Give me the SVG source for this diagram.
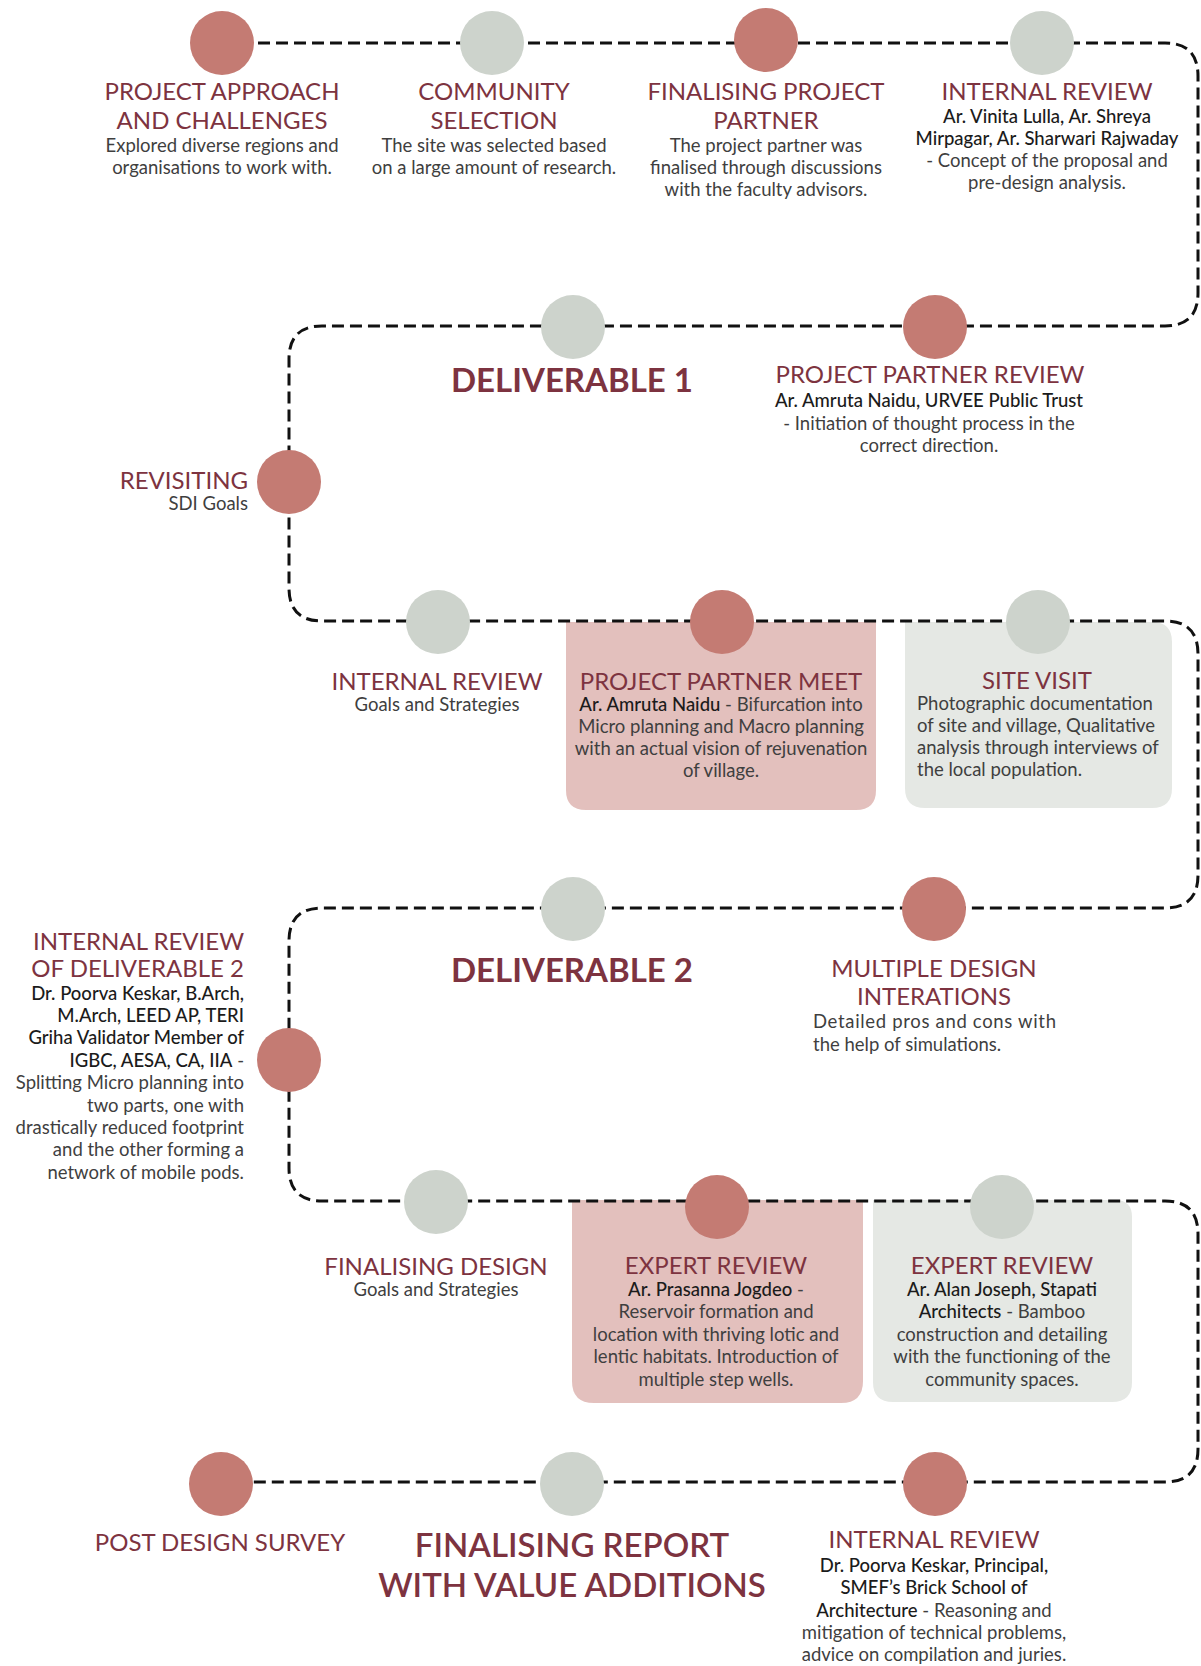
<svg xmlns="http://www.w3.org/2000/svg" width="1201" height="1666" viewBox="0 0 1201 1666">
<style>
text{font-family:Lato,"Liberation Sans",sans-serif}
.t{font-size:24px;font-weight:400;fill:#7d3340;text-anchor:middle}
.tr{font-size:24px;font-weight:400;fill:#7d3340;text-anchor:end}
.b{font-size:18.5px;fill:#3f3f3f;text-anchor:middle}
.br{font-size:18.5px;fill:#3f3f3f;text-anchor:end}
.bl{font-size:18.5px;fill:#3f3f3f;text-anchor:start}
.m{font-weight:500;fill:#1b1b1b}
.big{font-size:33px;font-weight:700;fill:#7d3340;text-anchor:middle}
.big2{font-size:33px;font-weight:600;fill:#7d3340;text-anchor:middle}
.red{fill:#c47b73}
.grey{fill:#cdd3cc}
.pink{fill:#e3c0bd}
.gbox{fill:#e5e8e4}
.line{fill:none;stroke:#111;stroke-width:3;stroke-dasharray:12 6}
</style>

<g id="boxes">
<path id="box-partner-meet" class="pink" d="M566,622 H876 V790 Q876,810 856,810 H586 Q566,810 566,790 Z"/>
<path id="box-site-visit" class="gbox" d="M905,622 H1152 Q1172,622 1172,642 V788 Q1172,808 1152,808 H925 Q905,808 905,788 Z"/>
<path id="box-expert1" class="pink" d="M572,1200 H863 V1381 Q863,1403 841,1403 H594 Q572,1403 572,1381 Z"/>
<path id="box-expert2" class="gbox" d="M873,1200 H1115 Q1132,1200 1132,1217 V1382 Q1132,1402 1112,1402 H893 Q873,1402 873,1382 Z"/>
</g>

<g id="connectors">
<path class="line" d="M222,43 H1165 Q1198,43 1198,76 V293 Q1198,326 1165,326 H322 Q289,326 289,359 V588 Q289,621 322,621 H1165 Q1198,621 1198,654 V875 Q1198,908 1165,908 H322 Q289,908 289,941 V1168 Q289,1201 322,1201 H1165 Q1198,1201 1198,1234 V1449 Q1198,1482 1165,1482 H221"/>
</g>

<g id="n1">
<circle class="red" cx="222" cy="43" r="32"/>
<text class="t" x="222" y="100">PROJECT APPROACH</text>
<text class="t" x="222" y="129">AND CHALLENGES</text>
<text class="b" x="222" y="152">Explored diverse regions and</text>
<text class="b" x="222" y="174">organisations to work with.</text>
</g>

<g id="n2">
<circle class="grey" cx="492" cy="43" r="32"/>
<text class="t" x="494" y="100">COMMUNITY</text>
<text class="t" x="494" y="129">SELECTION</text>
<text class="b" x="494" y="152">The site was selected based</text>
<text class="b" x="494" y="174">on a large amount of research.</text>
</g>

<g id="n3">
<circle class="red" cx="766" cy="40" r="32"/>
<text class="t" x="766" y="100">FINALISING PROJECT</text>
<text class="t" x="766" y="129">PARTNER</text>
<text class="b" x="766" y="152">The project partner was</text>
<text class="b" x="766" y="174">finalised through discussions</text>
<text class="b" x="766" y="196">with the faculty advisors.</text>
</g>

<g id="n4">
<circle class="grey" cx="1042" cy="43" r="32"/>
<text class="t" x="1047" y="100">INTERNAL REVIEW</text>
<text class="b" x="1047" y="123"><tspan class="m">Ar. Vinita Lulla, Ar. Shreya</tspan></text>
<text class="b" x="1047" y="145"><tspan class="m">Mirpagar, Ar. Sharwari Rajwaday</tspan></text>
<text class="b" x="1047" y="167">- Concept of the proposal and</text>
<text class="b" x="1047" y="189">pre-design analysis.</text>
</g>

<g id="n5">
<circle class="grey" cx="573" cy="327" r="32"/>
<text class="big" x="572" y="392">DELIVERABLE 1</text>
</g>

<g id="n6">
<circle class="red" cx="935" cy="327" r="32"/>
<text class="t" x="930" y="383">PROJECT PARTNER REVIEW</text>
<text class="b" x="929" y="407"><tspan class="m">Ar. Amruta Naidu, URVEE Public Trust</tspan></text>
<text class="b" x="929" y="430">- Initiation of thought process in the</text>
<text class="b" x="929" y="452">correct direction.</text>
</g>

<g id="n7">
<circle class="red" cx="289" cy="482" r="32"/>
<text class="tr" x="248" y="489">REVISITING</text>
<text class="br" x="248" y="510">SDI Goals</text>
</g>

<g id="n8">
<circle class="grey" cx="438" cy="622" r="32"/>
<text class="t" x="437" y="690">INTERNAL REVIEW</text>
<text class="b" x="437" y="711">Goals and Strategies</text>
</g>

<g id="n9">
<circle class="red" cx="722" cy="622" r="32"/>
<text class="t" x="721" y="690">PROJECT PARTNER MEET</text>
<text class="b" x="721" y="711"><tspan class="m">Ar. Amruta Naidu</tspan> - Bifurcation into</text>
<text class="b" x="721" y="733">Micro planning and Macro planning</text>
<text class="b" x="721" y="755">with an actual vision of rejuvenation</text>
<text class="b" x="721" y="777">of village.</text>
</g>

<g id="n10">
<circle class="grey" cx="1038" cy="622" r="32"/>
<text class="t" x="1037" y="689">SITE VISIT</text>
<text class="bl" x="917" y="710">Photographic documentation</text>
<text class="bl" x="917" y="732">of site and village, Qualitative</text>
<text class="bl" x="917" y="754">analysis through interviews of</text>
<text class="bl" x="917" y="776">the local population.</text>
</g>

<g id="n11">
<circle class="grey" cx="573" cy="909" r="32"/>
<text class="big" x="572" y="982">DELIVERABLE 2</text>
</g>

<g id="n12">
<circle class="red" cx="934" cy="909" r="32"/>
<text class="t" x="934" y="977">MULTIPLE DESIGN</text>
<text class="t" x="934" y="1005">INTERATIONS</text>
<text class="bl" x="813" y="1028" textLength="243" lengthAdjust="spacing">Detailed pros and cons with</text>
<text class="bl" x="813" y="1051">the help of simulations.</text>
</g>

<g id="n13">
<circle class="red" cx="289" cy="1060" r="32"/>
<text class="tr" x="244" y="950">INTERNAL REVIEW</text>
<text class="tr" x="244" y="977">OF DELIVERABLE 2</text>
<text class="br" x="244" y="1000"><tspan class="m">Dr. Poorva Keskar, B.Arch,</tspan></text>
<text class="br" x="244" y="1022"><tspan class="m">M.Arch, LEED AP, TERI</tspan></text>
<text class="br" x="244" y="1044"><tspan class="m">Griha Validator Member of</tspan></text>
<text class="br" x="244" y="1067"><tspan class="m">IGBC, AESA, CA, IIA</tspan> -</text>
<text class="br" x="244" y="1089">Splitting Micro planning into</text>
<text class="br" x="244" y="1112">two parts, one with</text>
<text class="br" x="244" y="1134">drastically reduced footprint</text>
<text class="br" x="244" y="1156">and the other forming a</text>
<text class="br" x="244" y="1179">network of mobile pods.</text>
</g>

<g id="n14">
<circle class="grey" cx="436" cy="1202" r="32"/>
<text class="t" x="436" y="1275">FINALISING DESIGN</text>
<text class="b" x="436" y="1296">Goals and Strategies</text>
</g>

<g id="n15">
<circle class="red" cx="717" cy="1207" r="32"/>
<text class="t" x="716" y="1274">EXPERT REVIEW</text>
<text class="b" x="716" y="1296"><tspan class="m">Ar. Prasanna Jogdeo</tspan> -</text>
<text class="b" x="716" y="1318">Reservoir formation and</text>
<text class="b" x="716" y="1341">location with thriving lotic and</text>
<text class="b" x="716" y="1363">lentic habitats. Introduction of</text>
<text class="b" x="716" y="1386">multiple step wells.</text>
</g>

<g id="n16">
<circle class="grey" cx="1002" cy="1207" r="32"/>
<text class="t" x="1002" y="1274">EXPERT REVIEW</text>
<text class="b" x="1002" y="1296"><tspan class="m">Ar. Alan Joseph, Stapati</tspan></text>
<text class="b" x="1002" y="1318"><tspan class="m">Architects</tspan> - Bamboo</text>
<text class="b" x="1002" y="1341">construction and detailing</text>
<text class="b" x="1002" y="1363">with the functioning of the</text>
<text class="b" x="1002" y="1386">community spaces.</text>
</g>

<g id="n17">
<circle class="red" cx="221" cy="1484" r="32"/>
<text class="t" x="220" y="1551">POST DESIGN SURVEY</text>
</g>

<g id="n18">
<circle class="grey" cx="572" cy="1484" r="32"/>
<text class="big2" x="572" y="1557">FINALISING REPORT</text>
<text class="big2" x="572" y="1597">WITH VALUE ADDITIONS</text>
</g>

<g id="n19">
<circle class="red" cx="935" cy="1484" r="32"/>
<text class="t" x="934" y="1548">INTERNAL REVIEW</text>
<text class="b" x="934" y="1572"><tspan class="m">Dr. Poorva Keskar, Principal,</tspan></text>
<text class="b" x="934" y="1594"><tspan class="m">SMEF’s Brick School of</tspan></text>
<text class="b" x="934" y="1617"><tspan class="m">Architecture</tspan> - Reasoning and</text>
<text class="b" x="934" y="1639">mitigation of technical problems,</text>
<text class="b" x="934" y="1661">advice on compilation and juries.</text>
</g>
</svg>
